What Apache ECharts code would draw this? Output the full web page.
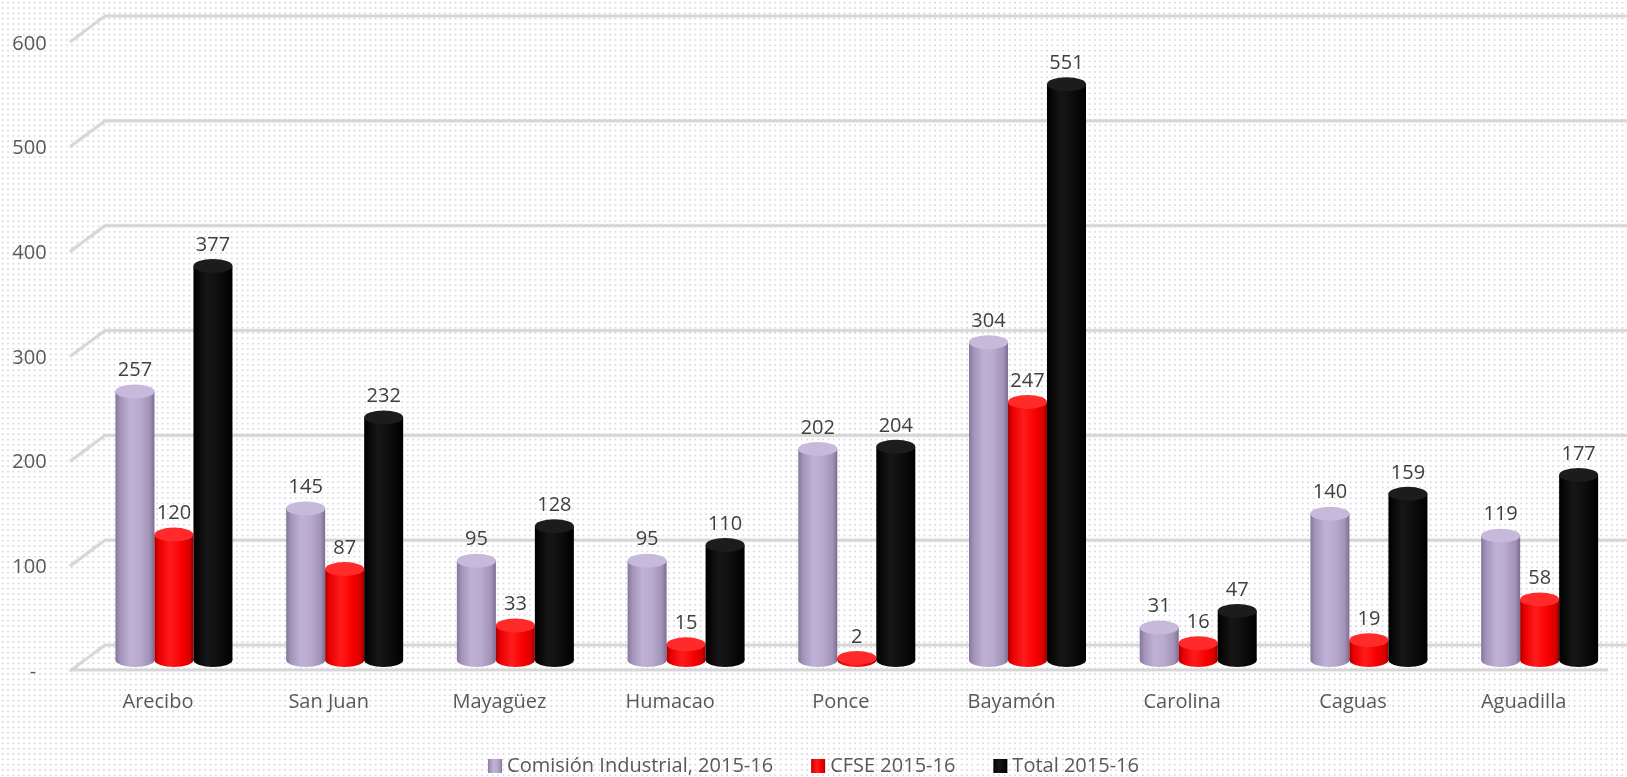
<!DOCTYPE html>
<html>
<head>
<meta charset="utf-8">
<script src="https://cdn.jsdelivr.net/npm/echarts@6/dist/echarts.min.js"></script>
<style>
  html, body { margin: 0; padding: 0; }
  body {
    width: 1627px; height: 777px; overflow: hidden;
    background-color: #ffffff;
    background-image: radial-gradient(circle, #dadae3 0.8px, rgba(255,255,255,0) 1.2px);
    background-size: 5.33px 5.33px;
  }
  #chart { width: 1627px; height: 777px; }
</style>
</head>
<body>
<div id="chart"></div>
<script>
const categories = ['Arecibo', 'San Juan', 'Mayagüez', 'Humacao', 'Ponce', 'Bayamón', 'Carolina', 'Caguas', 'Aguadilla'];
const comision = [257, 145, 95, 95, 202, 304, 31, 140, 119];
const cfse = [120, 87, 33, 15, 2, 247, 16, 19, 58];
const total = [377, 232, 128, 110, 204, 551, 47, 159, 177];
const seriesNames = ['Comisión Industrial, 2015-16', 'CFSE 2015-16', 'Total 2015-16'];
const yTicks = [0, 100, 200, 300, 400, 500, 600];

const FONT = '"Open Sans", "Liberation Sans", sans-serif';

const palettes = [
  { stops: [[0, '#86769c'], [0.12, '#a393b9'], [0.38, '#bfb1d5'], [0.62, '#b9aacf'], [0.88, '#a292b8'], [1, '#7c6c92']], cap: '#c6b9da', base: '#b3a2c7' },
  { stops: [[0, '#a80000'], [0.12, '#ea0000'], [0.4, '#ff1c1c'], [0.7, '#f80000'], [0.9, '#d80000'], [1, '#9a0000']], cap: '#ff2b2b', base: '#ff0000' },
  { stops: [[0, '#000000'], [0.35, '#161616'], [0.55, '#111111'], [1, '#000000']], cap: '#1c1c1c', base: '#000000' }
];

function grad(stops) {
  return new echarts.graphic.LinearGradient(0, 0, 1, 0, stops.map(s => ({ offset: s[0], color: s[1] })));
}

function cylinder(sIdx) {
  const pal = palettes[sIdx];
  return function (params, api) {
    const cat = api.value(0);
    const v = api.value(1);
    const base = api.coord([cat, 0]);
    const top = api.coord([cat, v]);
    const w = 39, rx = w / 2, ry = 7;
    const cx = base[0] + (sIdx - 1) * w;
    return {
      type: 'group',
      children: [
        { type: 'circle', x: cx, y: base[1], scaleY: ry / rx, shape: { cx: 0, cy: 0, r: rx }, style: { fill: grad(pal.stops) } },
        { type: 'rect', shape: { x: cx - rx, y: top[1], width: w, height: Math.max(0, base[1] - top[1]) }, style: { fill: grad(pal.stops) } },
        { type: 'circle', x: cx, y: top[1], scaleY: ry / rx, shape: { cx: 0, cy: 0, r: rx }, style: { fill: pal.cap } },
        { type: 'text', x: cx, y: top[1] - 21, z2: 10, style: { text: String(v), fill: '#404040', font: '20px ' + FONT, align: 'center', verticalAlign: 'middle' } }
      ]
    };
  };
}

function gridLines(params, api) {
  const v = api.value(1);
  const p0 = api.coord([0, v]);
  const p1 = api.coord([1, v]);
  const style = { stroke: '#d6d6d6', lineWidth: 2.6, shadowBlur: 2, shadowColor: 'rgba(0,0,0,0.12)', fill: null };
  const children = [
    { type: 'polyline', shape: { points: [[p0[0] - 35, p0[1] + 26], p0, p1] }, style: style }
  ];
  if (v === 0) {
    children.push({ type: 'line', shape: { x1: p0[0] - 35, y1: p0[1] + 25, x2: p1[0] - 19, y2: p1[1] + 25 }, style: style });
  }
  return { type: 'group', children: children };
}

const seriesData = [comision, cfse, total];

const chart = echarts.init(document.getElementById('chart'), null, { renderer: 'canvas' });
chart.setOption({
  backgroundColor: 'transparent',
  animation: false,
  textStyle: { fontFamily: FONT },
  legend: {
    left: 'center',
    top: 751,
    itemWidth: 14,
    itemHeight: 14,
    itemGap: 38,
    icon: 'rect',
    textStyle: { fontSize: 20, color: '#595959', fontFamily: FONT },
    data: seriesNames.map((n, i) => ({ name: n, itemStyle: { color: grad(palettes[i].stops) } }))
  },
  grid: [
    { left: 88.6, right: 2, top: 33, bottom: 117, containLabel: false },
    { left: 105, right: 0, top: 16, bottom: 132, containLabel: false },
    { left: 88.6, right: 2, top: 44, bottom: 105, containLabel: false }
  ],
  xAxis: [
    {
      type: 'category', gridIndex: 0, data: categories,
      axisLine: { show: false }, axisTick: { show: false },
      axisLabel: { margin: 32, fontSize: 20, color: '#595959', fontFamily: FONT, padding: [0, 32, 0, 0] }
    },
    { type: 'value', gridIndex: 1, min: 0, max: 1, show: false },
    { type: 'value', gridIndex: 2, min: 0, max: 1, show: false }
  ],
  yAxis: [
    {
      type: 'value', gridIndex: 0, min: 0, max: 600, interval: 100,
      show: false
    },
    { type: 'value', gridIndex: 1, min: 0, max: 600, interval: 100, show: false },
    {
      type: 'value', gridIndex: 2, min: 0, max: 600, interval: 100,
      axisLine: { show: false }, axisTick: { show: false }, splitLine: { show: false },
      axisLabel: {
        margin: 42, fontSize: 20, color: '#595959', fontFamily: FONT,
        formatter: v => (v === 0 ? '-  ' : String(v))
      }
    }
  ],
  series: [
    {
      type: 'custom', name: '__grid', xAxisIndex: 1, yAxisIndex: 1, z: 1, silent: true,
      renderItem: gridLines, data: yTicks.map(v => [0, v]), encode: { x: 0, y: 1 }
    }
  ].concat(seriesData.map((arr, i) => ({
    type: 'custom',
    name: seriesNames[i],
    xAxisIndex: 0, yAxisIndex: 0, z: 5 + i,
    itemStyle: { color: palettes[i].base },
    renderItem: cylinder(i),
    encode: { x: 0, y: 1 },
    data: arr.map((v, k) => [k, v])
  })))
});
</script>
</body>
</html>
